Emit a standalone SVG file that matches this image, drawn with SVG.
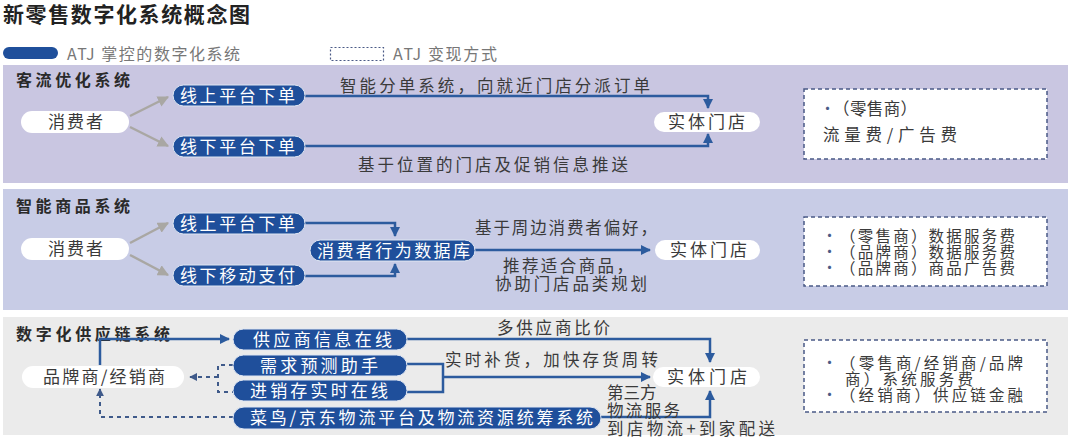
<svg xmlns="http://www.w3.org/2000/svg" width="1080" height="445" viewBox="0 0 1080 445">
<style>
text{font-family:"Noto Sans CJK SC","Noto Sans",sans-serif;fill:#3a3a3a;}
.title{font-size:21px;font-weight:bold;fill:#222;}
.sec{font-size:16px;font-weight:bold;fill:#2a2a2a;}
.leg{font-size:16px;fill:#777;}
.lbl{font-size:16.5px;}
.nd{font-size:17px;}
.bx{font-size:15.5px;}
.wt{font-size:17px;fill:#fff;}
.blue{fill:#1f4f9b;stroke:#dfe6f2;stroke-width:1;}
.white{fill:#fff;}
.box{fill:#fff;stroke:#4a5a86;stroke-width:1.5;stroke-dasharray:4 3;}
.con{fill:none;stroke:#2c5b9e;stroke-width:2.5;}
.gray{fill:none;stroke:#a9a7a3;stroke-width:2.5;}
.dash{fill:none;stroke:#3f5a8a;stroke-width:2;stroke-dasharray:4 4;}
.bul{font-size:15px;fill:#4a5a86;}
</style>
<defs>
<marker id="ab" viewBox="0 0 10 10" refX="9" refY="5" markerWidth="4" markerHeight="4" orient="auto" markerUnits="strokeWidth"><path d="M0,0 L10,5 L0,10 z" fill="#2c5b9e"/></marker>
<marker id="ag" viewBox="0 0 10 10" refX="9" refY="5" markerWidth="4.5" markerHeight="4.5" orient="auto" markerUnits="strokeWidth"><path d="M0,0 L10,5 L0,10 z" fill="#a9a7a3"/></marker>
<marker id="ad" viewBox="0 0 10 10" refX="9" refY="5" markerWidth="4" markerHeight="4" orient="auto" markerUnits="strokeWidth"><path d="M0,0 L10,5 L0,10 z" fill="#3f5a8a"/></marker>
</defs>
<rect width="1080" height="445" fill="#fff"/>
<text class="title" x="3" y="22" textLength="247" lengthAdjust="spacing">新零售数字化系统概念图</text>
<g id="legend">
<rect x="3" y="47" width="55" height="12" rx="6" fill="#1f4f9b"/>
<text class="leg" x="67" y="60" textLength="173" lengthAdjust="spacing">ATJ 掌控的数字化系统</text>
<rect x="330.5" y="47.5" width="53" height="13" fill="#fff" stroke="#4a5a86" stroke-width="1.2" stroke-dasharray="2 2"/>
<text class="leg" x="393" y="60" textLength="104" lengthAdjust="spacing">ATJ 变现方式</text>
</g>
<g id="panels">
<rect x="3" y="65" width="1065" height="118" fill="#c9c6e1"/>
<rect x="3" y="189" width="1065" height="121" fill="#c8cce6"/>
<rect x="3" y="317" width="1065" height="118" fill="#ebebeb"/>
<text class="sec" x="16" y="86" textLength="114" lengthAdjust="spacing">客流优化系统</text>
<text class="sec" x="16" y="212" textLength="114" lengthAdjust="spacing">智能商品系统</text>
<text class="sec" x="16" y="340" textLength="154" lengthAdjust="spacing">数字化供应链系统</text>
</g>
<g id="connectors">
<path class="gray" d="M130,116 L168,97" marker-end="url(#ag)"/>
<path class="gray" d="M130,127 L168,146" marker-end="url(#ag)"/>
<path class="con" d="M305,96 H708 V108" marker-end="url(#ab)"/>
<path class="con" d="M305,146 H708 V134" marker-end="url(#ab)"/>
<path class="gray" d="M130,243 L168,223" marker-end="url(#ag)"/>
<path class="gray" d="M130,255 L168,275" marker-end="url(#ag)"/>
<path class="con" d="M305,223 H395 V236" marker-end="url(#ab)"/>
<path class="con" d="M305,276 H395 V264" marker-end="url(#ab)"/>
<path class="con" d="M475,250 H650" marker-end="url(#ab)"/>
<path class="con" d="M100,365 V339 H229" marker-end="url(#ab)"/>
<path class="dash" d="M233,365 H218 V392 H233"/>
<path class="dash" d="M218,377 H190" marker-end="url(#ad)"/>
<path class="dash" d="M233,417 H100 V389" marker-end="url(#ad)"/>
<path class="con" d="M407,339 H710 V362" marker-end="url(#ab)"/>
<path class="con" d="M407,364 H443 V392 H407"/>
<path class="con" d="M443,377 H650" marker-end="url(#ab)"/>
<path class="con" d="M600,417 H710 V391" marker-end="url(#ab)"/>
</g>
<g id="labels">
<text class="lbl" x="340" y="92" textLength="310" lengthAdjust="spacing">智能分单系统，向就近门店分派订单</text>
<text class="lbl" x="358" y="171" textLength="270" lengthAdjust="spacing">基于位置的门店及促销信息推送</text>
<text class="lbl" x="475" y="234" textLength="182" lengthAdjust="spacing">基于周边消费者偏好，</text>
<text class="lbl" x="503" y="272" textLength="130" lengthAdjust="spacing">推荐适合商品，</text>
<text class="lbl" x="495" y="290" textLength="152" lengthAdjust="spacing">协助门店品类规划</text>
<text class="lbl" x="497" y="334" textLength="113" lengthAdjust="spacing">多供应商比价</text>
<text class="lbl" x="445" y="366" textLength="213" lengthAdjust="spacing">实时补货，加快存货周转</text>
<text class="lbl" x="607" y="399">第三方</text>
<text class="lbl" x="607" y="417" textLength="73" lengthAdjust="spacing">物流服务</text>
<text class="lbl" x="607" y="435" textLength="168" lengthAdjust="spacing">到店物流+到家配送</text>
</g>
<g id="n1-consumer"><rect class="white" x="21" y="111" width="108" height="22" rx="11"/><text class="nd" x="48" y="128" textLength="55" lengthAdjust="spacing">消费者</text></g>
<g id="n1-online"><rect class="blue" x="173" y="85" width="132" height="21" rx="10.5"/><text class="wt" x="180" y="101.5" textLength="115" lengthAdjust="spacing">线上平台下单</text></g>
<g id="n1-offline"><rect class="blue" x="173" y="136" width="132" height="21" rx="10.5"/><text class="wt" x="180" y="152.5" textLength="115" lengthAdjust="spacing">线下平台下单</text></g>
<g id="n1-store"><rect class="white" x="654" y="112" width="106" height="20" rx="10"/><text class="nd" x="668" y="128" textLength="77" lengthAdjust="spacing">实体门店</text></g>
<g id="n1-box"><rect class="box" x="804" y="89" width="243" height="70"/><text class="bul" x="820" y="114">•</text><text class="lbl" x="833" y="115" textLength="84" lengthAdjust="spacing">（零售商）</text><text class="lbl" x="823" y="141" textLength="134" lengthAdjust="spacing">流量费/广告费</text></g>
<g id="n2-consumer"><rect class="white" x="21" y="238" width="108" height="22" rx="11"/><text class="nd" x="48" y="255" textLength="55" lengthAdjust="spacing">消费者</text></g>
<g id="n2-online"><rect class="blue" x="173" y="213" width="132" height="21" rx="10.5"/><text class="wt" x="180" y="229.5" textLength="115" lengthAdjust="spacing">线上平台下单</text></g>
<g id="n2-offline"><rect class="blue" x="173" y="265" width="132" height="21" rx="10.5"/><text class="wt" x="180" y="281.5" textLength="115" lengthAdjust="spacing">线下移动支付</text></g>
<g id="n2-db"><rect class="blue" x="310" y="240" width="165" height="21" rx="10.5"/><text class="wt" x="317" y="256.5" textLength="153" lengthAdjust="spacing">消费者行为数据库</text></g>
<g id="n2-store"><rect class="white" x="655" y="240" width="105" height="20" rx="10"/><text class="nd" x="670" y="256" textLength="77" lengthAdjust="spacing">实体门店</text></g>
<g id="n2-box"><rect class="box" x="804" y="217" width="243" height="69"/><text class="bul" x="822" y="241">•</text><text class="bx" x="840" y="242" textLength="175" lengthAdjust="spacing">（零售商）数据服务费</text><text class="bul" x="822" y="257">•</text><text class="bx" x="840" y="258" textLength="175" lengthAdjust="spacing">（品牌商）数据服务费</text><text class="bul" x="822" y="273">•</text><text class="bx" x="840" y="274" textLength="175" lengthAdjust="spacing">（品牌商）商品广告费</text></g>
<g id="n3-brand"><rect class="white" x="22" y="366" width="162" height="22" rx="11"/><text class="nd" x="43" y="383" textLength="122" lengthAdjust="spacing">品牌商/经销商</text></g>
<g id="n3-supplier"><rect class="blue" x="233" y="329" width="174" height="21" rx="10.5"/><text class="wt" x="253" y="346" textLength="139" lengthAdjust="spacing">供应商信息在线</text></g>
<g id="n3-forecast"><rect class="blue" x="233" y="355" width="174" height="21" rx="10.5"/><text class="wt" x="260" y="371.5" textLength="118" lengthAdjust="spacing">需求预测助手</text></g>
<g id="n3-inventory"><rect class="blue" x="233" y="380" width="174" height="21" rx="10.5"/><text class="wt" x="250" y="396.5" textLength="138" lengthAdjust="spacing">进销存实时在线</text></g>
<g id="n3-logistics"><rect class="blue" x="233" y="407" width="368" height="22" rx="11"/><text class="wt" x="250" y="424" textLength="343" lengthAdjust="spacing">菜鸟/京东物流平台及物流资源统筹系统</text></g>
<g id="n3-store"><rect class="white" x="653" y="367" width="107" height="20" rx="10"/><text class="nd" x="667" y="383" textLength="80" lengthAdjust="spacing">实体门店</text></g>
<g id="n3-box"><rect class="box" x="804" y="340" width="243" height="72"/><text class="bul" x="822" y="368">•</text><text class="bx" x="840" y="369" textLength="183" lengthAdjust="spacing">（零售商/经销商/品牌</text><text class="bx" x="845" y="385" textLength="128" lengthAdjust="spacing">商）系统服务费</text><text class="bul" x="822" y="400">•</text><text class="bx" x="840" y="401" textLength="183" lengthAdjust="spacing">（经销商）供应链金融</text></g>
</svg>
